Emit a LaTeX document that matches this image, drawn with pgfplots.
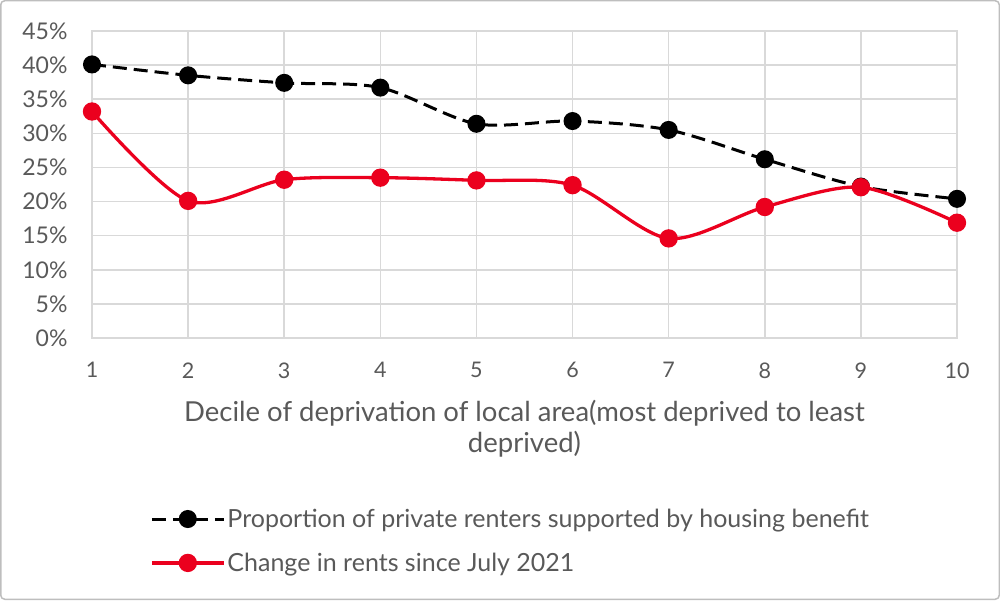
\documentclass[border=0pt]{standalone}
\usepackage{fontspec}
\setmainfont{Lato}
\usepackage{pgfplots}
\pgfplotsset{compat=1.18}
\definecolor{myred}{RGB}{235,0,30}
\definecolor{txt}{RGB}{89,89,89}
\definecolor{grd}{RGB}{217,217,217}
\pgfplotsset{my legend/.style={legend image code/.code={%
  \draw[mark repeat=2,mark phase=2,##1] plot coordinates {(0pt,0pt)(36pt,0pt)(72pt,0pt)};}}}
\begin{document}
\begin{tikzpicture}[x=1pt,y=1pt]
\path[use as bounding box] (0,0) rectangle (1000,600);
\draw[grd!70!gray, line width=1.5pt, rounded corners=4pt] (0.75,0.75) rectangle (999.25,599.25);
\begin{axis}[
  at={(92pt,262pt)}, anchor=south west,
  scale only axis, width=865pt, height=307pt,
  xmin=1, xmax=10, ymin=0, ymax=45,
  xtick={1,...,10}, ytick={0,5,...,45},
  yticklabel={\pgfmathprintnumber{\tick}\%},
  grid=major, grid style={grd, line width=1.5pt},
  axis line style={grd, line width=1.5pt},
  tick style={draw=none},
  clip=false,
  /pgf/number format/assume math mode=true,
  ticklabel style={text=txt, font=\fontsize{21.5}{25}\selectfont},
  yticklabel style={xshift=-21pt, font=\fontsize{23}{25}\selectfont},
  xticklabel style={yshift=-21pt},
  xlabel={Decile of deprivation of local area(most deprived to least\\deprived)},
  xlabel style={at={(axis description cs:0.5,0)}, anchor=north, yshift=-62pt, align=center, text=txt, font=\fontsize{27.5}{31}\selectfont, inner sep=0pt},
  legend style={at={(axis description cs:0.067,-0.55)}, anchor=north west, draw=none, fill=none, inner sep=0pt, row sep=20pt, font=\fontsize{25}{29}\selectfont, text=txt},
  legend cell align=left,
  my legend,
]
\addplot[black, line width=3pt, dash pattern=on 14pt off 7pt, smooth, tension=0.5, mark=*, mark size=7.5pt, mark options={solid}]
coordinates {(1,40.1)(2,38.5)(3,37.4)(4,36.7)(5,31.4)(6,31.8)(7,30.5)(8,26.2)(9,22.2)(10,20.4)};
\addlegendentry{Proportion of private renters supported by housing benefit}
\addplot[myred, line width=3.3pt, smooth, tension=0.5, mark=*, mark size=7.5pt]
coordinates {(1,33.2)(2,20.1)(3,23.2)(4,23.5)(5,23.1)(6,22.4)(7,14.6)(8,19.2)(9,22.1)(10,16.9)};
\addlegendentry{Change in rents since July 2021}
\end{axis}
\end{tikzpicture}
\end{document}
